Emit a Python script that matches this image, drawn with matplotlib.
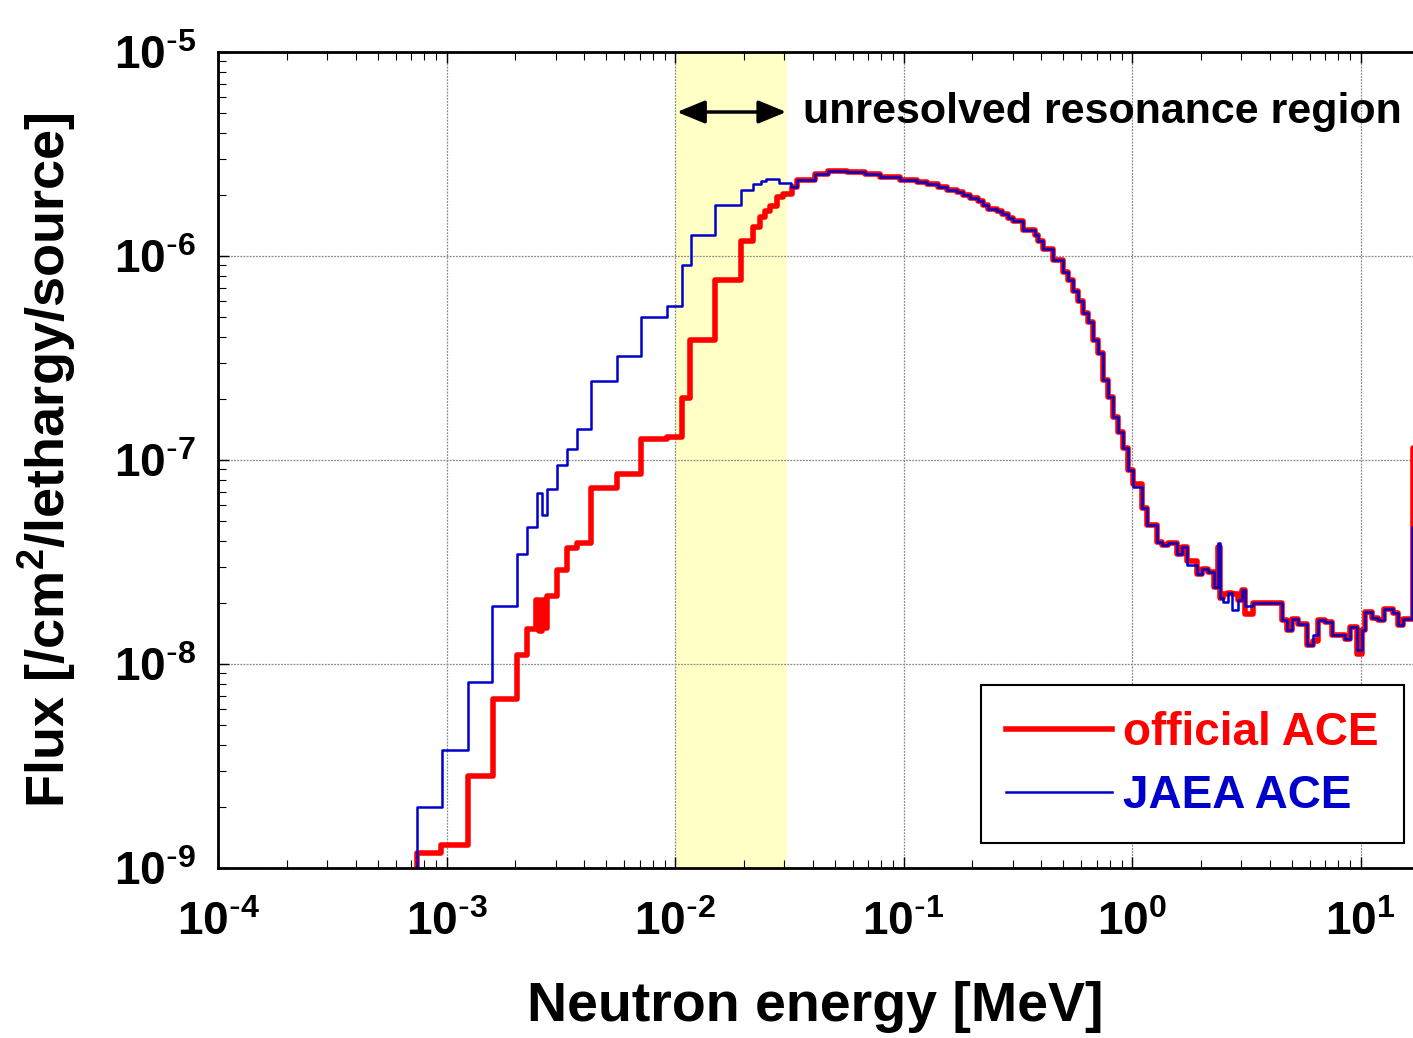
import matplotlib
matplotlib.use("Agg")
import math
import matplotlib.pyplot as plt
from matplotlib.ticker import LogLocator, FuncFormatter, NullFormatter

FONT = ["Liberation Sans", "DejaVu Sans"]

# energy bin edges [MeV] and flux per lethargy, low-energy part (differs between libraries)
jaea_low_edges = [7.41e-4, 9.59e-4, 1.238e-3, 1.582e-3, 2.04e-3, 2.25e-3, 2.48e-3, 2.61e-3,
                  2.745e-3, 3.04e-3, 3.36e-3, 3.71e-3, 4.30e-3, 5.56e-3, 7.08e-3, 9.20e-3,
                  1.07e-2, 1.17e-2, 1.50e-2, 1.94e-2, 2.20e-2, 2.37e-2, 2.50e-2, 2.86e-2,
                  3.21e-2]
jaea_low = [1.99e-9, 3.78e-9, 8.17e-9, 1.92e-8, 3.46e-8, 4.70e-8, 6.89e-8, 5.36e-8,
            7.22e-8, 9.45e-8, 1.136e-7, 1.416e-7, 2.43e-7, 3.24e-7, 5.05e-7, 5.69e-7,
            9.05e-7, 1.272e-6, 1.78e-6, 2.107e-6, 2.25e-6, 2.34e-6, 2.39e-6, 2.29e-6,
            2.175e-6]

official_low_edges = [7.41e-4, 9.43e-4, 1.238e-3, 1.594e-3, 2.04e-3, 2.244e-3, 2.465e-3,
                      2.54e-3, 2.62e-3, 2.70e-3, 2.754e-3, 3.04e-3, 3.36e-3, 3.71e-3,
                      4.30e-3, 5.56e-3, 7.08e-3, 9.20e-3, 1.07e-2, 1.163e-2, 1.50e-2,
                      1.94e-2, 2.20e-2, 2.355e-2, 2.476e-2, 2.604e-2, 2.787e-2, 2.979e-2,
                      3.24e-2]
official_low = [1.19e-9, 1.29e-9, 2.83e-9, 6.73e-9, 1.108e-8, 1.48e-8, 2.05e-8, 1.45e-8,
                2.05e-8, 1.5e-8, 2.16e-8, 2.88e-8, 3.71e-8, 3.91e-8, 7.26e-8, 8.51e-8,
                1.27e-7, 1.29e-7, 2.01e-7, 3.88e-7, 7.60e-7, 1.189e-6, 1.39e-6, 1.545e-6,
                1.67e-6, 1.762e-6, 1.957e-6, 2.01e-6, 2.175e-6]

# high-energy part, common bin edges (last edge lies past the axis end)
hi_edges = [3.41e-2, 4.10e-2, 4.69e-2, 5.64e-2, 6.78e-2, 7.89e-2, 9.65e-2, 0.1142, 0.1263,
            0.142, 0.1546, 0.171, 0.1827, 0.1954, 0.2126, 0.2235, 0.235, 0.2558, 0.269,
            0.2875, 0.3022, 0.3344, 0.3762, 0.3889, 0.409, 0.4524, 0.5004, 0.526, 0.5534,
            0.582, 0.612, 0.644, 0.677, 0.712, 0.749, 0.788, 0.828, 0.871, 0.916, 0.963,
            1.013, 1.103, 1.16, 1.283, 1.349, 1.442, 1.569, 1.650, 1.735, 1.920, 2.018,
            2.158, 2.292, 2.387, 2.428, 2.509, 2.639, 2.731, 2.919, 3.021, 3.122, 3.395,
            4.520, 4.753, 5.0, 5.343, 5.815, 6.215, 6.536, 6.993, 7.479, 8.554, 8.995,
            9.625, 10.12, 10.46, 11.19, 11.96, 12.67, 13.92, 14.64, 15.39, 16.75, 20.0]
jaea_hi = [2.36e-6, 2.52e-6, 2.61e-6, 2.59e-6, 2.52e-6, 2.43e-6, 2.36e-6, 2.30e-6, 2.247e-6,
           2.17e-6, 2.107e-6, 2.05e-6, 1.99e-6, 1.93e-6, 1.866e-6, 1.778e-6, 1.694e-6,
           1.662e-6, 1.601e-6, 1.541e-6, 1.485e-6, 1.341e-6, 1.267e-6, 1.189e-6, 1.078e-6,
           9.56e-7, 8.32e-7, 7.63e-7, 6.74e-7, 6.04e-7, 5.24e-7, 4.76e-7, 3.88e-7, 3.33e-7,
           2.47e-7, 2.04e-7, 1.63e-7, 1.376e-7, 1.141e-7, 8.93e-8, 7.35e-8, 5.80e-8, 4.80e-8,
           3.98e-8, 3.83e-8, 3.91e-8, 3.46e-8, 3.73e-8, 3.06e-8, 2.76e-8, 2.91e-8, 2.83e-8,
           2.39e-8, 3.91e-8, 2.10e-8, 2.02e-8, 2.22e-8, 1.84e-8, 2.06e-8, 2.31e-8, 1.92e-8,
           1.98e-8, 1.64e-8, 1.47e-8, 1.66e-8, 1.57e-8, 1.24e-8, 1.39e-8, 1.64e-8, 1.61e-8,
           1.39e-8, 1.32e-8, 1.52e-8, 1.17e-8, 1.47e-8, 1.80e-8, 1.69e-8, 1.64e-8, 1.87e-8,
           1.77e-8, 1.55e-8, 1.67e-8, 4.71e-8]
official_hi_edges = hi_edges[:-2] + [16.9, 20.0]
official_hi = [2.36e-6, 2.52e-6, 2.61e-6, 2.59e-6, 2.52e-6, 2.43e-6, 2.36e-6, 2.30e-6, 2.247e-6,
               2.17e-6, 2.107e-6, 2.05e-6, 1.99e-6, 1.93e-6, 1.866e-6, 1.778e-6, 1.694e-6,
               1.662e-6, 1.601e-6, 1.541e-6, 1.485e-6, 1.341e-6, 1.267e-6, 1.189e-6, 1.078e-6,
               9.56e-7, 8.32e-7, 7.63e-7, 6.74e-7, 6.04e-7, 5.24e-7, 4.76e-7, 3.88e-7, 3.33e-7,
               2.47e-7, 2.04e-7, 1.63e-7, 1.376e-7, 1.141e-7, 8.93e-8, 7.6e-8, 5.80e-8, 4.80e-8,
               3.98e-8, 3.83e-8, 3.91e-8, 3.46e-8, 3.73e-8, 3.2e-8, 2.76e-8, 2.91e-8, 2.83e-8,
               2.39e-8, 3.75e-8, 2.10e-8, 2.2e-8, 2.22e-8, 2.2e-8, 2.06e-8, 2.31e-8, 1.75e-8,
               1.98e-8, 1.64e-8, 1.47e-8, 1.66e-8, 1.57e-8, 1.24e-8, 1.3e-8, 1.64e-8, 1.61e-8,
               1.39e-8, 1.32e-8, 1.52e-8, 1.12e-8, 1.47e-8, 1.80e-8, 1.69e-8, 1.64e-8, 1.87e-8,
               1.77e-8, 1.55e-8, 1.67e-8, 1.14e-7]

urr_lo, urr_hi = 1.0e-2, 3.1e-2
FLOOR = 1e-11


def step_xy(edges_lo, vals_lo, edges_hi, vals_hi):
    edges = edges_lo + edges_hi
    vals = vals_lo + vals_hi
    x = [edges[0]] + edges
    y = [FLOOR] + vals + [vals[-1]]
    return x, y


def decade_label(v, pos):
    e = int(round(math.log10(v)))
    sign = "\\text{-}" if e < 0 else ""
    return "$\\mathdefault{10^{%s%d}}$" % (sign, abs(e))


fig = plt.figure(figsize=(14.13, 10.38), dpi=100)
ax = fig.add_axes([218 / 1413, 170 / 1038, 1195 / 1413, 816 / 1038])

ax.axvspan(urr_lo, urr_hi, color="#ffffc6", zorder=0, lw=0)

x, y = step_xy(official_low_edges, official_low, official_hi_edges, official_hi)
ax.plot(x, y, drawstyle="steps-post", color="#ff0000", lw=4.0, label="official ACE", zorder=3)
x, y = step_xy(jaea_low_edges, jaea_low, hi_edges, jaea_hi)
ax.plot(x, y, drawstyle="steps-post", color="#0000cc", lw=1.8, label="JAEA ACE", zorder=4)

ax.set_xscale("log")
ax.set_yscale("log")
ax.set_xlim(1e-4, 16.97)
ax.set_ylim(1e-9, 1e-5)

ax.xaxis.set_major_locator(LogLocator(base=10, numticks=20))
ax.yaxis.set_major_locator(LogLocator(base=10, numticks=20))
ax.xaxis.set_minor_locator(LogLocator(base=10, subs=range(2, 10), numticks=20))
ax.yaxis.set_minor_locator(LogLocator(base=10, subs=range(2, 10), numticks=20))
ax.xaxis.set_major_formatter(FuncFormatter(decade_label))
ax.yaxis.set_major_formatter(FuncFormatter(decade_label))
ax.xaxis.set_minor_formatter(NullFormatter())
ax.yaxis.set_minor_formatter(NullFormatter())

ax.tick_params(which="both", direction="in", top=True, right=False, color="black")
ax.tick_params(which="major", length=8, width=1.0)
ax.tick_params(which="minor", length=6, width=0.8)
ax.tick_params(axis="x", which="major", pad=24)
ax.tick_params(axis="y", which="major", pad=16)
for lab in ax.get_xticklabels() + ax.get_yticklabels():
    lab.set_family(FONT)
    lab.set_fontweight("bold")
    lab.set_fontsize(33)

ax.grid(True, which="major", color="#8c8c8c", ls=(0, (1.5, 1)), lw=0.9, zorder=1)

ax.spines["right"].set_visible(False)
for side in ["top", "left", "bottom"]:
    ax.spines[side].set_linewidth(2.0)
    ax.spines[side].set_zorder(5)

ax.set_xlabel("Neutron energy [MeV]", family=FONT, fontweight="bold", fontsize=40, labelpad=26)
ax.set_ylabel("Flux [/cm$^\\mathdefault{2}$/lethargy/source]", family=FONT, fontweight="bold",
              fontsize=39, labelpad=26)

ax.annotate("", xy=(urr_lo * 1.02, 5.08e-6), xytext=(urr_hi * 0.99, 5.08e-6),
            arrowprops=dict(arrowstyle="<|-|>,head_length=0.85,head_width=0.35",
                            color="black", lw=2.5, shrinkA=0, shrinkB=0, mutation_scale=20),
            zorder=6)
ax.text(0.0363, 5.08e-6, "unresolved resonance region", family=FONT, fontweight="bold",
        fontsize=31, ha="left", va="center", zorder=6)

leg = ax.legend(loc="lower right", bbox_to_anchor=(0.9925, 0.0306), borderaxespad=0,
                prop=dict(family=FONT, weight="bold", size=33), labelcolor="linecolor",
                frameon=True, fancybox=False, edgecolor="black", framealpha=1,
                handlelength=2.3, handletextpad=0.25, labelspacing=0.42, borderpad=0.55)
leg.get_frame().set_linewidth(1.5)
leg.set_zorder(7)

fig.savefig("out.png", dpi=100)
